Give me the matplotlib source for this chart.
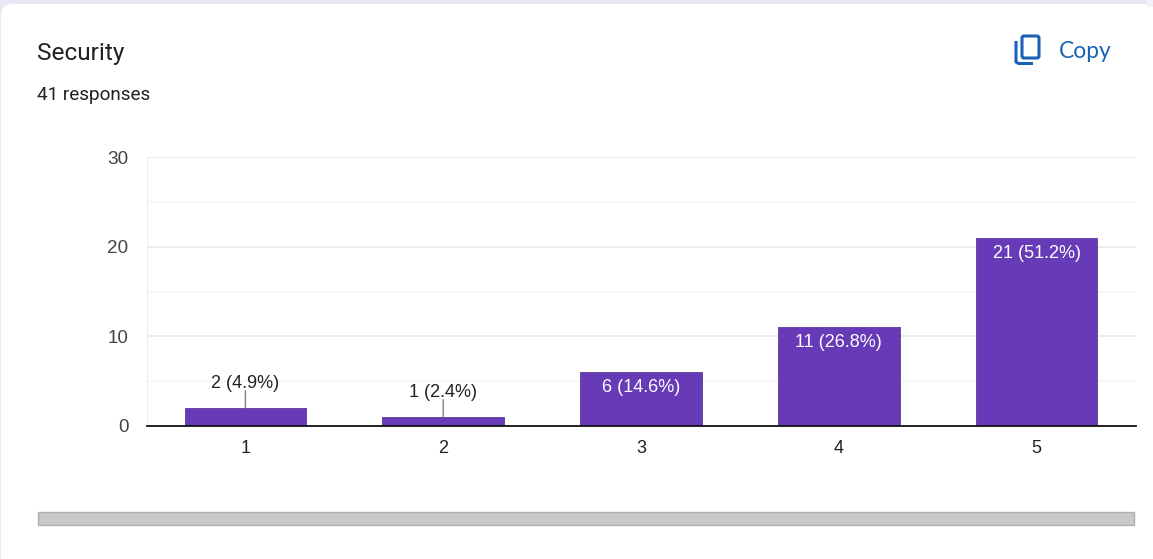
import matplotlib.pyplot as plt
from matplotlib.patches import FancyBboxPatch, Rectangle

# Values
categories = ['1', '2', '3', '4', '5']
counts = [2, 1, 6, 11, 21]
percents = ['4.9', '2.4', '14.6', '26.8', '51.2']
major_ticks = [0, 10, 20, 30]
minor_ticks = [5, 15, 25]

W, H = 1153, 559
purple = '#673ab7'
blue = '#1a62b4'

fig = plt.figure(figsize=(W / 100, H / 100), dpi=100, facecolor='#e9e7f4')

# Page layer in pixel coordinates: card, header, scrollbar
page = fig.add_axes([0, 0, 1, 1])
page.set_xlim(0, W)
page.set_ylim(H, 0)
page.axis('off')

page.add_patch(FancyBboxPatch((1, 4), W + 40, H + 40, boxstyle='round,pad=0,rounding_size=12',
                              fc='white', ec='none', zorder=1))
page.add_patch(FancyBboxPatch((W - 12, 4), 11, 14, boxstyle='round,pad=0,rounding_size=11',
                              fc='white', ec='none', zorder=1))
page.add_patch(Rectangle((W - 6, 0), 6, 7, fc='#f3f2f9', ec='none', zorder=1))

page.text(37, 53.5, 'Security', family='Roboto', fontsize=17.6, color='#202124', va='center', zorder=3)
page.text(37, 94.5, '41 responses', family='Roboto', fontsize=13.6, color='#202124', va='center', zorder=3)
page.text(1059, 51, 'Copy', family='Lato', fontsize=16.4, color=blue, va='center', zorder=3)

# Copy icon
page.add_patch(FancyBboxPatch((1022, 36), 17, 22, boxstyle='round,pad=0,rounding_size=2',
                              fc='none', ec=blue, lw=2.2, zorder=3))
page.plot([1016, 1016, 1018.5, 1033], [41, 62, 63.5, 63.5], color=blue, lw=2.2, zorder=3,
          solid_capstyle='butt')

# Scrollbar
page.add_patch(Rectangle((38, 511.5), 1095.5, 13, fc='#c9c9c9', ec='#b0b0b0', lw=1, zorder=3))

# Chart
ax = fig.add_axes([146.5 / W, 1 - 426 / H, (1135.5 - 146.5) / W, (426 - 157) / H])
ax.patch.set_alpha(0)
x = range(len(categories))
ax.bar(x, counts, width=0.615, color=purple, edgecolor='#5a3a96', linewidth=0.6, zorder=3)

ax.set_xlim(-0.5, 4.5)
ax.set_ylim(0, 30)
ax.set_xticks(list(x))
ax.set_xticklabels(categories)
ax.set_yticks(major_ticks)
ax.set_yticks(minor_ticks, minor=True)
ax.tick_params(axis='both', which='both', length=0)
ax.tick_params(axis='x', pad=10, labelsize=13, labelcolor='#222222')
ax.tick_params(axis='y', pad=13, labelsize=13.6, labelcolor='#444444')
for lab in ax.get_xticklabels() + ax.get_yticklabels():
    lab.set_family('Liberation Sans')

ax.grid(axis='y', which='major', color='#ececec', lw=1.4, zorder=0)
ax.grid(axis='y', which='minor', color='#f6f6f6', lw=1.2, zorder=0)
ax.grid(axis='x', visible=False)
for side in ['top', 'right']:
    ax.spines[side].set_visible(False)
ax.spines['left'].set_color('#eeeeee')
ax.spines['bottom'].set_color('#111111')
ax.spines['bottom'].set_linewidth(1.3)
ax.spines['bottom'].set_zorder(5)

# Bar labels, inside when the bar is tall enough, otherwise on a leader line
for i, (n, pct) in enumerate(zip(counts, percents)):
    label = f'{n} ({pct}%)'
    if n >= 6:
        ax.annotate(label, (i, n), xytext=(0, -11.2), textcoords='offset points', ha='center', va='center',
                    family='Liberation Sans', fontsize=13, color='white', zorder=6)
    else:
        ax.annotate(label, (i, n), xytext=(0, 17.8), textcoords='offset points', ha='center', va='center',
                    family='Liberation Sans', fontsize=13, color='#222222', zorder=6)
        ax.annotate('', (i, n), xytext=(0, 12.5), textcoords='offset points',
                    arrowprops=dict(arrowstyle='-', color='#808080', lw=1, shrinkA=0, shrinkB=0), zorder=6)

fig.savefig('out.png', dpi=100, facecolor=fig.get_facecolor())
